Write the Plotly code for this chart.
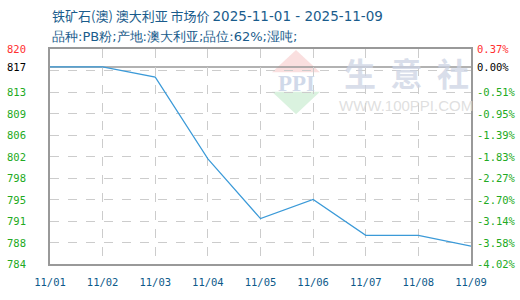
import plotly.graph_objects as go

dates = ["11/01", "11/02", "11/03", "11/04", "11/05", "11/06", "11/07", "11/08", "11/09"]
prices = [817, 817, 815.3, 801.6, 791.6, 794.8, 788.8, 788.8, 787.0]
base_price = 817
grid_vals = [784, 787.6, 791.2, 794.8, 798.4, 802, 805.6, 809.2, 812.8, 816.4, 820]
left_labels = ["784", "788", "791", "795", "798", "802", "806", "809", "813", "817", "820"]
right_labels = ["-4.02%", "-3.58%", "-3.14%", "-2.70%", "-2.27%", "-1.83%", "-1.39%", "-0.95%", "-0.51%", "0.00%", "0.37%"]
title_main = "铁矿石(澳) 澳大利亚 市场价"
title_dates = "2025-11-01 - 2025-11-09"
subtitle = "品种:PB粉;产地:澳大利亚;品位:62%;湿吨;"

W, H = 520, 300
L, R, T, B = 50, 49, 49, 30
pw, ph = W - L - R, H - T - B

def px(x):
    return (x - L) / pw

def py(y):
    return (H - B - y) / ph

xi = list(range(len(dates)))

fig = go.Figure()
fig.add_trace(go.Scatter(x=xi, y=prices, mode="lines",
                         line=dict(color="#3b9ad8", width=1.2), hoverinfo="skip"))

mono = "DejaVu Sans Mono"
ann = []

# watermark
ann.append(dict(x=px(406), xref="paper", y=py(73), yref="paper", text="<b>生  意  社</b>", showarrow=False,
                xanchor="center", yanchor="middle",
                font=dict(family="Noto Sans CJK SC", size=32, color="rgba(205,212,228,0.75)")))
ann.append(dict(x=px(406), xref="paper", y=py(107), yref="paper", text="WWW.100PPI.COM", showarrow=False,
                xanchor="center", yanchor="middle",
                font=dict(family="Liberation Sans", size=15, color="rgba(215,215,215,0.8)")))
ann.append(dict(x=px(296), xref="paper", y=py(84), yref="paper", text="<b>PPI</b>", showarrow=False,
                xanchor="center", yanchor="middle",
                font=dict(family="Liberation Serif", size=23, color="rgba(200,210,230,0.85)")))

for i, (v, lt, rt) in enumerate(zip(grid_vals, left_labels, right_labels)):
    if i == len(grid_vals) - 1:
        col = "#ff3030"
    elif i == len(grid_vals) - 2:
        col = "#000000"
    else:
        col = "#22aa22"
    yv = base_price if i == len(grid_vals) - 2 else v
    ann.append(dict(x=px(5), xref="paper", y=yv, yref="y", text=lt, showarrow=False,
                    xanchor="left", yanchor="middle", font=dict(family=mono, size=10.5, color=col)))
    ann.append(dict(x=px(475), xref="paper", y=yv, yref="y", text=rt, showarrow=False,
                    xanchor="left", yanchor="middle", font=dict(family=mono, size=10.5, color=col)))

title_col = "#1a5c8c"
ann.append(dict(x=px(50), xref="paper", y=py(15), yref="paper",
                text=f'{title_main} <span style="font-family:Verdana,DejaVu Sans;font-size:13.5px">{title_dates}</span>',
                showarrow=False, xanchor="left", yanchor="middle",
                font=dict(family="Noto Sans CJK SC", size=13, color=title_col)))
ann.append(dict(x=px(50), xref="paper", y=py(36), yref="paper",
                text=subtitle, showarrow=False,
                xanchor="left", yanchor="middle",
                font=dict(family="DejaVu Sans", size=13, color=title_col)))

shapes = [
    dict(type="path", xref="paper", yref="paper",
         path=f"M {px(272)},{py(73)} L {px(296)},{py(50)} L {px(320)},{py(73)} Z",
         fillcolor="rgba(248,210,210,0.7)", line=dict(width=0), layer="below"),
    dict(type="path", xref="paper", yref="paper",
         path=f"M {px(272)},{py(93)} L {px(296)},{py(116)} L {px(320)},{py(93)} Z",
         fillcolor="rgba(205,238,212,0.75)", line=dict(width=0), layer="below"),
    dict(type="line", xref="paper", yref="y", x0=0, x1=1, y0=base_price, y1=base_price,
         line=dict(color="#999999", width=1.5), layer="below"),
]

fig.update_layout(
    width=W, height=H, margin=dict(l=L, r=R, t=T, b=B),
    paper_bgcolor="white", plot_bgcolor="white", showlegend=False,
    annotations=ann, shapes=shapes,
    xaxis=dict(range=[0, len(dates) - 1], tickvals=xi, ticktext=dates, showgrid=True,
               gridcolor="#cccccc", griddash="dash", gridwidth=1, zeroline=False,
               showline=True, linecolor="#999999", linewidth=1.5, mirror=True, ticks="",
               ticklabelstandoff=8,
               tickfont=dict(family=mono, size=10.5, color="#0d5a8a")),
    yaxis=dict(range=[784, 820], tickvals=grid_vals, showticklabels=False, showgrid=True,
               gridcolor="#cccccc", griddash="dash", gridwidth=1, zeroline=False,
               showline=True, linecolor="#999999", linewidth=1.5, mirror=True, ticks=""),
)

fig.write_html("out.html")
